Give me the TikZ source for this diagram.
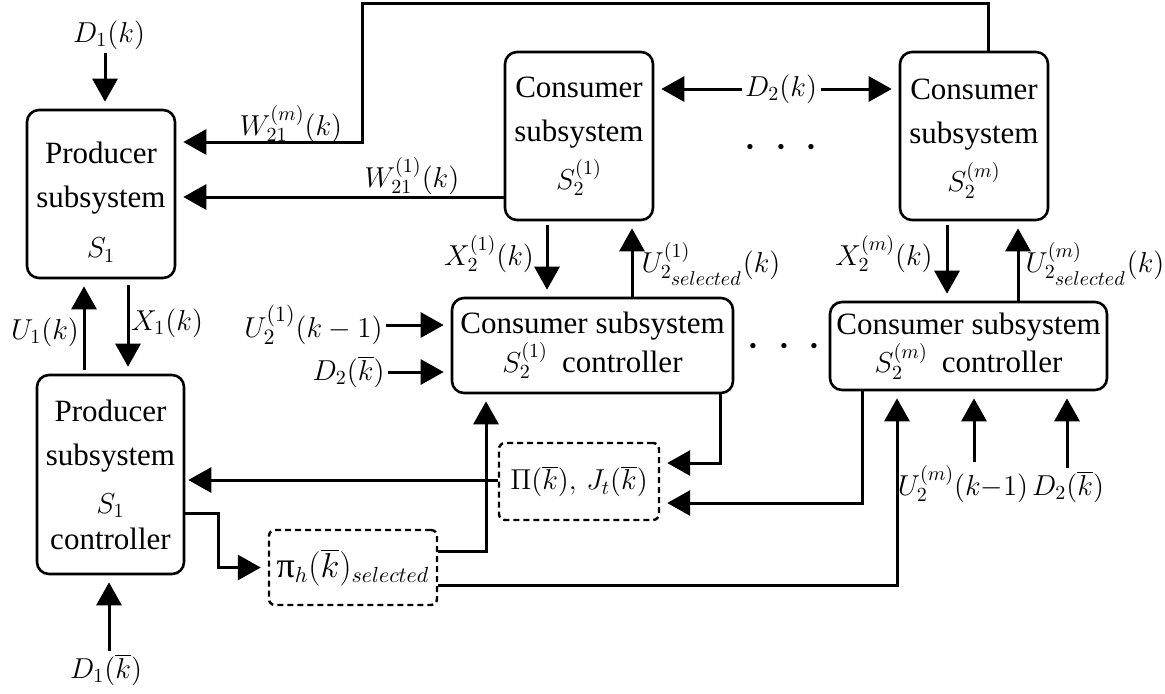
\documentclass[tikz,border=0pt]{standalone}
\usepackage[no-math]{fontspec}
\setmainfont{Liberation Serif}
\usetikzlibrary{arrows.meta}
\newcommand{\bxfont}{\fontsize{15.5}{22}\selectfont}
\newcommand{\cxfont}{\fontsize{15.5}{17.5}\selectfont}
\newcommand{\lbfont}{\fontsize{14}{17}\selectfont}
\begin{document}
\begin{tikzpicture}[x=0.5pt,y=-0.5pt,
  line width=1.5pt,
  arr/.style={-{Triangle[length=11.5pt,width=12.5pt]}, shorten >=3.5pt},
  box/.style={draw, line width=1.3pt, rounded corners=6pt, align=center, inner sep=0pt, font=\bxfont},
  cbox/.style={box, font=\cxfont},
  dbox/.style={draw, line width=1.2pt, dash pattern=on 3pt off 2pt, rounded corners=3pt, inner sep=0pt, font=\lbfont},
  lbl/.style={inner sep=1pt, font=\lbfont}]
\useasboundingbox (0,0) rectangle (1165,693);
% boxes
\node[box, minimum width=74pt, minimum height=84pt] (P) at (101,194) {\rule{0pt}{19pt}Producer\\subsystem\\[3pt]{\lbfont$S_1$}};
\node[box, minimum width=74pt, minimum height=84pt] (S1) at (579,136) {Consumer\\subsystem\\[2pt]{\lbfont$S_2^{(1)}$}};
\node[box, minimum width=74pt, minimum height=84pt] (Sm) at (974,136) {\rule{0pt}{13pt}Consumer\\subsystem\\[2pt]{\lbfont$S_2^{(m)}$}};
\node[cbox, minimum width=140.5pt, minimum height=47.5pt] (C1) at (592.5,345.5) {Consumer subsystem\\{\lbfont$S_2^{(1)}$}\hspace{7pt}controller};
\node[cbox, minimum width=138.5pt, minimum height=44pt] (Cm) at (968.5,346) {Consumer subsystem\\{\lbfont$S_2^{(m)}$}\hspace{7pt}controller};
\node[box, minimum width=73.5pt, minimum height=99.5pt] (PC) at (110.5,474.5) {Producer\\subsystem\\[2pt]{\lbfont$S_1$}\\[-4pt]controller};
\node[dbox, minimum width=84pt, minimum height=37.5pt, font=\fontsize{16}{18}\selectfont] (Pi) at (353,567.5) {{\fontsize{18}{18}\selectfont π}$_h(\overline{k})_{selected}$};
\node[dbox, minimum width=80pt, minimum height=38.5pt] (PJ) at (579,481.5) {$\Pi(\overline{k}),\,J_t(\overline{k})$};
% labels
\node[lbl] (d1k) at (109,35) {$D_1(k)$};
\node[lbl] (w2m) at (291,124) {$W_{21}^{(m)}(k)$};
\node[lbl] (w21) at (412,176) {$W_{21}^{(1)}(k)$};
\node[lbl] (d2k) at (781,89) {$D_2(k)$};
\node[font=\fontsize{26}{26}\selectfont, inner sep=0pt] (dots1) at (781,148) {$\cdot$\hspace{8.3pt}$\cdot$\hspace{8.3pt}$\cdot$};
\node[font=\fontsize{26}{26}\selectfont, inner sep=0pt] (dots2) at (784,347) {$\cdot$\hspace{8.3pt}$\cdot$\hspace{8.3pt}$\cdot$};
\node[lbl] (x21) at (489,254) {$X_2^{(1)}(k)$};
\node[lbl] (u21) at (711,264) {$U^{(1)}_{2_{\scriptstyle selected}}(k)$};
\node[lbl] (x2m) at (884,254) {$X_2^{(m)}(k)$};
\node[lbl] (u2m) at (1095,264) {$U^{(m)}_{2_{\scriptstyle selected}}(k)$};
\node[lbl] (u1k) at (45,332) {$U_1(k)$};
\node[lbl] (x1k) at (167,323) {$X_1(k)$};
\node[lbl, anchor=east, font=\fontsize{15}{17}\selectfont] (u2p) at (386,325) {$U_2^{(1)}(k-1)$};
\node[lbl, anchor=east] (d2b) at (388,372) {$D_2(\overline{k})$};
\node[lbl] (u2mk) at (963,484) {$U_2^{(m)}(k\mathrm{-}1)$};
\node[lbl] (d2b2) at (1068,487) {$D_2(\overline{k})$};
\node[lbl] (d1b) at (106,670) {$D_1(\overline{k})$};
% connectors
\draw[arr] ([xshift=-2pt]d1k.south) -- ([xshift=-2pt]d1k.south |- P.north);
\draw[arr] (Sm.north -| 988,0) -- (988,3) -- (362,3) -- (362,142) -- (P.east |- 0,142);
\draw[arr] (S1.west |- 0,197) -- (P.east |- 0,197);
\draw[arr] (d2k.west) -- (S1.east |- d2k.west);
\draw[arr] (d2k.east) -- (Sm.west |- d2k.east);
\draw[arr, shorten <=2pt] (S1.south -| 547,0) -- (C1.north -| 547,0);
\draw[arr] (C1.north -| 632,0) -- (S1.south -| 632,0);
\draw[arr, shorten <=2pt] (Sm.south -| 947,0) -- (Cm.north -| 947,0);
\draw[arr] (Cm.north -| 1018,0) -- (Sm.south -| 1018,0);
\draw[arr, shorten <=2pt] (PC.north -| 84,0) -- (P.south -| 84,0);
\draw[arr, shorten <=3pt] (P.south -| 128,0) -- (PC.north -| 128,0);
\draw[arr] (u2p.east) -- (C1.west |- u2p.east);
\draw[arr] (d2b.east) -- (C1.west |- d2b.east);
\draw[arr] (PC.east |- 0,513) -- (218,513) -- (218,567.5) -- (Pi.west);
\draw[arr, shorten >=1.5pt] (PJ.west |- 0,480) -- (PC.east |- 0,480);
\draw[arr] (Pi.east |- 0,551) -- (486,551) -- (C1.south -| 486,0);
\draw[arr] (Pi.east |- 0,585) -- (897,585) -- (Cm.south -| 897,0);
\draw[arr] (C1.south -| 720,0) -- (720,463) -- (PJ.east |- 0,463);
\draw[arr] (Cm.south -| 862,0) -- (862,503) -- (PJ.east |- 0,503);
\draw[arr] (u2mk.north -| 974,0) -- (Cm.south -| 974,0);
\draw[arr] (d2b2.north -| 1067,0) -- (Cm.south -| 1067,0);
\draw[arr] (d1b.north -| 109,0) -- (PC.south -| 109,0);
\end{tikzpicture}
\end{document}
